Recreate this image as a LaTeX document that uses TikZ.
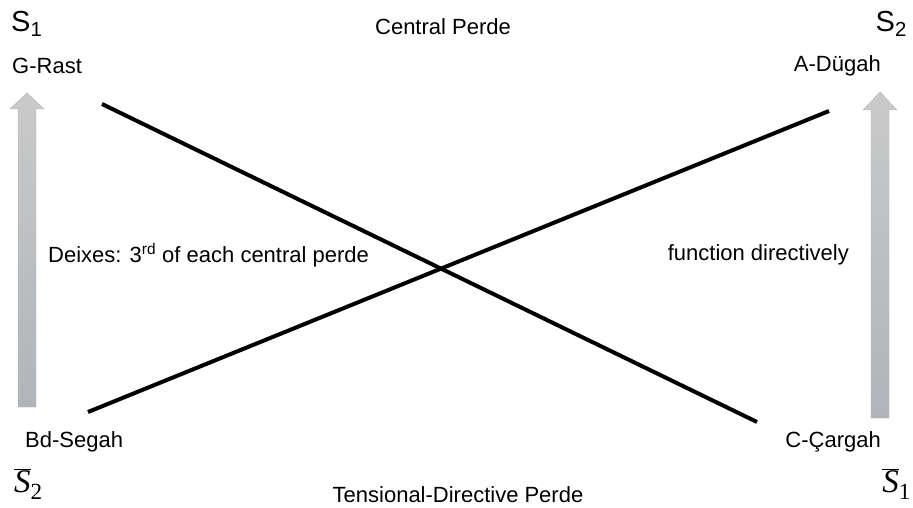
\documentclass[tikz,border=0pt]{standalone}
\usepackage{fontspec}
\setmainfont{Liberation Sans}
\newfontfamily\barfont{Liberation Serif}
\newcommand{\barsym}[1]{$\overline{\hbox{\barfont\itshape S}}$\textsubscript{\barfont #1}}
\begin{document}
\begin{tikzpicture}[x=1pt,y=-1pt,
  lbl/.style={inner sep=0pt,font=\fontsize{22}{25}\selectfont},
  sym/.style={inner sep=0pt,font=\fontsize{29}{33}\selectfont},
  symb/.style={inner sep=0pt,font=\fontsize{33}{36}\selectfont},
  cross/.style={line width=4pt},
  bigarrow/.style={draw=gray!60,line width=0.4pt,top color=gray!42,bottom color={rgb,255:red,176;green,181;blue,185}}]
\useasboundingbox (0,0) rectangle (913,508);
% arrows
\shadedraw[bigarrow] (27,93) -- (44,109) -- (36,109) -- (36,407) -- (18,407) -- (18,109) -- (10,109) -- cycle;
\shadedraw[bigarrow] (880,92) -- (897,110) -- (889,110) -- (889,418) -- (871,418) -- (871,110) -- (863,110) -- cycle;
% labels
\node[sym,anchor=west] (s1) at (11,24) {S\textsubscript{1}};
\node[sym,anchor=east] (s2) at (907,24) {S\textsubscript{2}};
\node[lbl] (central) at (443,27) {Central Perde};
\node[lbl,anchor=west] (rast) at (12,66) {G-Rast};
\node[lbl,anchor=east] (dugah) at (881,66) {A-Dügah};
\node[lbl,anchor=west] (deix) at (48,255) {Deixes: 3\textsuperscript{rd} of each central perde};
\node[lbl,anchor=east] (func) at (849,255) {function directively};
\node[lbl,anchor=west] (segah) at (25,442) {Bd-Segah};
\node[lbl,anchor=east] (cargah) at (881,442) {C-Çargah};
\node[symb,anchor=west] (s2b) at (14,484) {\barsym{2}};
\node[symb,anchor=east] (s1b) at (911,484) {\barsym{1}};
\node[lbl] (tens) at (458,495) {Tensional-Directive Perde};
% crossing lines
\coordinate (a1) at (102,104);
\coordinate (a2) at (757,422);
\coordinate (b1) at (88,412);
\coordinate (b2) at (829,111);
\draw[cross] (a1) -- (a2);
\draw[cross] (b1) -- (b2);
\end{tikzpicture}
\end{document}
